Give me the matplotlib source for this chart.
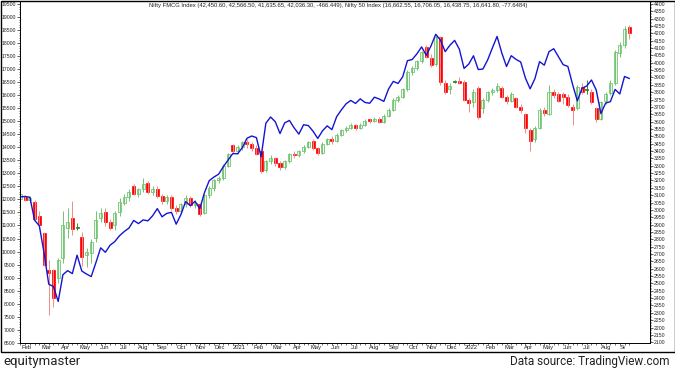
import numpy as np
import pandas as pd
import matplotlib
matplotlib.use("Agg")
import matplotlib.pyplot as plt
from matplotlib.patches import Rectangle
from matplotlib.ticker import MultipleLocator, FixedLocator
from matplotlib.transforms import Bbox

# weekly closes, Nifty 50 (left scale), Feb 2020 .. Jul 2022
nifty50 = [12098, 12113, 12081, 11202, 10989, 9955, 8745, 8660, 8084, 9112,
           9267, 9154, 9860, 9252, 9137, 9039, 9580, 10142, 9972, 10244,
           10383, 10608, 10768, 10902, 11194, 11073, 11214, 11178, 11372, 11647,
           11333, 11464, 11505, 11050, 11417, 11914, 11762, 11930, 11642, 12264,
           12720, 12859, 12969, 13258, 13514, 13761, 13749, 13982, 14347, 14434,
           14372, 13635, 14924, 15163, 14982, 14529, 14938, 15031, 14744, 14507,
           14867, 14835, 14617, 14341, 14631, 14823, 14678, 15175, 15435, 15670,
           15799, 15683, 15860, 15722, 15690, 15923, 15856, 15763, 16238, 16529,
           16451, 16705, 17324, 17369, 17585, 17853, 17532, 17895, 18339, 18115,
           17672, 17917, 18103, 17765, 17027, 17197, 17512, 16985, 17004, 17354,
           17813, 18256, 17617, 17102, 17516, 17375, 17276, 16658, 16246, 16630,
           17287, 17153, 17670, 17784, 17476, 17172, 17103, 16411, 15782, 16266,
           16353, 16584, 16202, 15294, 15699, 15752, 16221, 16049, 16719, 16642]

# weekly candles, Nifty FMCG (right scale, as labelled)
fmcg_open = [3075, 3090, 3070, 3054, 2958, 2843, 2590, 2590, 2537, 2673,
             2877, 2945, 2877, 2816, 2693, 2707, 2809, 2945, 2986, 2918,
             2897, 2986, 3050, 3085, 3160, 3110, 3140, 3180, 3120, 3145,
             3095, 3060, 3090, 3010, 2995, 3040, 3080, 3030, 3040, 2980,
             3100, 3150, 3200, 3215, 3300, 3440, 3400, 3430, 3460, 3450,
             3420, 3400, 3270, 3330, 3350, 3320, 3290, 3330, 3380, 3370,
             3400, 3430, 3470, 3420, 3390, 3450, 3480, 3470, 3510, 3540,
             3560, 3575, 3560, 3580, 3615, 3605, 3620, 3600, 3640, 3680,
             3750, 3770, 3820, 3940, 3965, 4010, 4110, 4033, 3990, 4176,
             3863, 3820, 3870, 3875, 3870, 3747, 3734, 3829, 3690, 3745,
             3800, 3815, 3830, 3770, 3740, 3760, 3700, 3650, 3540, 3480,
             3560, 3680, 3650, 3800, 3790, 3790, 3768, 3700, 3693, 3836,
             3818, 3802, 3693, 3620, 3740, 3795, 3863, 4067, 4121, 4245]
fmcg_high = [3128, 3100, 3092, 3065, 2990, 2850, 2660, 2600, 2675, 2990,
             3010, 3060, 2910, 2850, 2740, 2800, 2990, 3010, 3010, 2940,
             2990, 3080, 3110, 3140, 3175, 3150, 3220, 3195, 3160, 3160,
             3110, 3100, 3100, 3030, 3050, 3100, 3095, 3070, 3050, 3110,
             3160, 3210, 3230, 3310, 3390, 3450, 3440, 3470, 3480, 3460,
             3440, 3410, 3340, 3370, 3360, 3330, 3340, 3390, 3400, 3410,
             3440, 3470, 3480, 3430, 3460, 3490, 3500, 3520, 3550, 3570,
             3590, 3585, 3590, 3620, 3625, 3630, 3630, 3650, 3690, 3760,
             3780, 3830, 3950, 3980, 4020, 4080, 4120, 4060, 4190, 4180,
             3880, 3860, 3880, 3900, 3880, 3760, 3820, 3840, 3760, 3810,
             3830, 3860, 3840, 3780, 3800, 3770, 3720, 3660, 3560, 3570,
             3690, 3700, 3850, 3820, 3800, 3800, 3790, 3720, 3850, 3860,
             3880, 3820, 3700, 3740, 3800, 3880, 4090, 4140, 4250, 4257]
fmcg_low = [2990, 3060, 3050, 2932, 2880, 2620, 2285, 2340, 2500, 2640,
            2810, 2830, 2860, 2620, 2610, 2640, 2780, 2920, 2890, 2860,
            2860, 2960, 3030, 3060, 3100, 3090, 3120, 3110, 3100, 3080,
            3040, 3040, 3000, 2970, 2980, 3020, 3020, 3010, 2960, 2970,
            3080, 3130, 3180, 3200, 3290, 3390, 3380, 3410, 3420, 3400,
            3370, 3250, 3260, 3310, 3300, 3270, 3280, 3320, 3350, 3360,
            3390, 3420, 3410, 3370, 3380, 3440, 3450, 3460, 3500, 3530,
            3550, 3545, 3550, 3570, 3590, 3595, 3590, 3590, 3630, 3670,
            3730, 3760, 3810, 3920, 3950, 4000, 4030, 3970, 3980, 3850,
            3790, 3790, 3860, 3855, 3740, 3666, 3700, 3620, 3660, 3730,
            3780, 3800, 3760, 3720, 3730, 3690, 3660, 3520, 3400, 3460,
            3550, 3640, 3645, 3760, 3730, 3720, 3700, 3577, 3680, 3790,
            3790, 3720, 3600, 3610, 3720, 3780, 3850, 4040, 4100, 4164]
fmcg_close = [3105, 3068, 3082, 2940, 2897, 2625, 2570, 2400, 2660, 2897,
              2918, 2870, 2880, 2680, 2714, 2782, 2931, 2979, 2918, 2877,
              2979, 3054, 3085, 3120, 3110, 3140, 3175, 3120, 3145, 3095,
              3060, 3085, 3010, 2990, 3040, 3080, 3030, 3050, 2975, 3100,
              3150, 3200, 3215, 3300, 3380, 3400, 3430, 3460, 3450, 3420,
              3380, 3265, 3330, 3350, 3320, 3290, 3330, 3380, 3370, 3400,
              3430, 3460, 3420, 3390, 3450, 3480, 3470, 3510, 3540, 3560,
              3575, 3560, 3580, 3605, 3605, 3620, 3600, 3640, 3680, 3750,
              3770, 3820, 3940, 3965, 4010, 4070, 4040, 3985, 4176, 3870,
              3802, 3845, 3872, 3862, 3747, 3727, 3802, 3632, 3750, 3800,
              3815, 3840, 3770, 3740, 3785, 3700, 3680, 3560, 3470, 3560,
              3680, 3660, 3800, 3780, 3740, 3765, 3713, 3680, 3836, 3802,
              3820, 3734, 3618, 3730, 3790, 3863, 4074, 4121, 4230, 4204]

first_week = "2020-02-07"
header = ("Nifty FMCG Index (42,450.60, 42,566.50, 41,635.65, 42,036.30, -466.449), "
          "Nifty 50 Index (16,662.55, 16,706.05, 16,438.75, 16,641.80, -77.6484)")

weeks = pd.date_range(first_week, periods=len(nifty50), freq="7D")
idx = np.arange(len(weeks))
o = np.array(fmcg_open); h = np.array(fmcg_high)
l = np.array(fmcg_low); c = np.array(fmcg_close)

W, H = 675, 373
fig = plt.figure(figsize=(W / 100, H / 100), dpi=100)
fig.patch.set_facecolor("white")

# plot box in pixels: x 19.5..650, y 1..343
ax = fig.add_axes([19.5 / W, (H - 343) / H, (650 - 19.5) / W, 342 / H])
ax2 = ax.twinx()

# candles on ax (right scale), line on ax2 (left scale)
up_edge, up_face, dn = "#74c474", "#eef8ee", "#ff0000"
for i in idx:
    if abs(c[i] - o[i]) < 6:
        ax.vlines(i, l[i], h[i], color="#2e8b2e", lw=0.7)
        ax.add_patch(Rectangle((i - 0.32, min(o[i], c[i]) - 3), 0.64, abs(c[i] - o[i]) + 6,
                               fc="#117711", ec="#117711", lw=0.5))
    elif c[i] > o[i]:
        ax.vlines(i, l[i], h[i], color=up_edge, lw=0.7)
        ax.add_patch(Rectangle((i - 0.32, o[i]), 0.64, c[i] - o[i],
                               fc=up_face, ec=up_edge, lw=0.6))
    else:
        ax.vlines(i, l[i], h[i], color="#f08a8a", lw=0.7)
        ax.add_patch(Rectangle((i - 0.32, c[i]), 0.64, o[i] - c[i],
                               fc=dn, ec=dn, lw=0.5))

ax2.plot(idx, nifty50, color="#1414d2", lw=1.0)

ax.set_xlim(-0.2, 133.4)
ax.set_ylim(2095, 4420)
ax2.set_ylim(6490, 19615)

ax.yaxis.tick_right()
ax2.yaxis.tick_left()
ax.yaxis.set_major_locator(MultipleLocator(50))
ax.yaxis.set_minor_locator(MultipleLocator(10))
ax2.yaxis.set_major_locator(MultipleLocator(500))
ax2.yaxis.set_minor_locator(MultipleLocator(100))

tick_font = dict(family="Liberation Sans", size=3.7)
for a in (ax, ax2):
    for lab in a.get_yticklabels():
        lab.set_fontproperties(tick_font)
    a.tick_params(axis="y", which="major", length=2.0, width=0.5, pad=0.8, colors="#222222")
    a.tick_params(axis="y", which="minor", length=1.0, width=0.4)
    for s in a.spines.values():
        s.set_linewidth(0.6)

# month labels along the bottom
months = pd.date_range("2020-02-01", "2022-09-01", freq="MS")
mlabels = [str(m.year) if m.month == 1 else m.strftime("%b") for m in months]
mpos = (27 + 19.3 * np.arange(len(months)) - 20.5) / 4.72
ax.xaxis.set_major_locator(FixedLocator(mpos))
ax.set_xticklabels(mlabels, fontproperties=dict(family="Liberation Sans", size=4.2))
ax.xaxis.set_minor_locator(FixedLocator(idx))
ax.tick_params(axis="x", which="major", length=0, pad=1.5, colors="#222222")
ax.tick_params(axis="x", which="minor", length=1.5, width=0.4)
ax2.tick_params(axis="x", length=0)

# the last month label is cut short, as in the source chart
label_clip = Bbox.from_extents(0, 0, 624.5, H)
for lab in ax.get_xticklabels():
    lab.set_clip_box(label_clip)
    lab.set_clip_on(True)

fig.text(338 / W, 1 - 5 / H, header, ha="center", va="center",
         fontsize=4.2, family="Liberation Sans", color="#222222")

fig.add_artist(Rectangle((0.5 / W, (H - 352) / H), (W - 1) / W, 351.5 / H,
                         transform=fig.transFigure, fill=False, ec="black", lw=1.0))

fig.text(3 / W, 1 - 362 / H, "equitymaster", ha="left", va="center",
         fontsize=9.5, family="Roboto", color="#222222")
fig.text(670 / W, 1 - 362 / H, "Data source: TradingView.com", ha="right", va="center",
         fontsize=8.5, family="Roboto", color="#222222")

fig.savefig("out.png", dpi=100)
